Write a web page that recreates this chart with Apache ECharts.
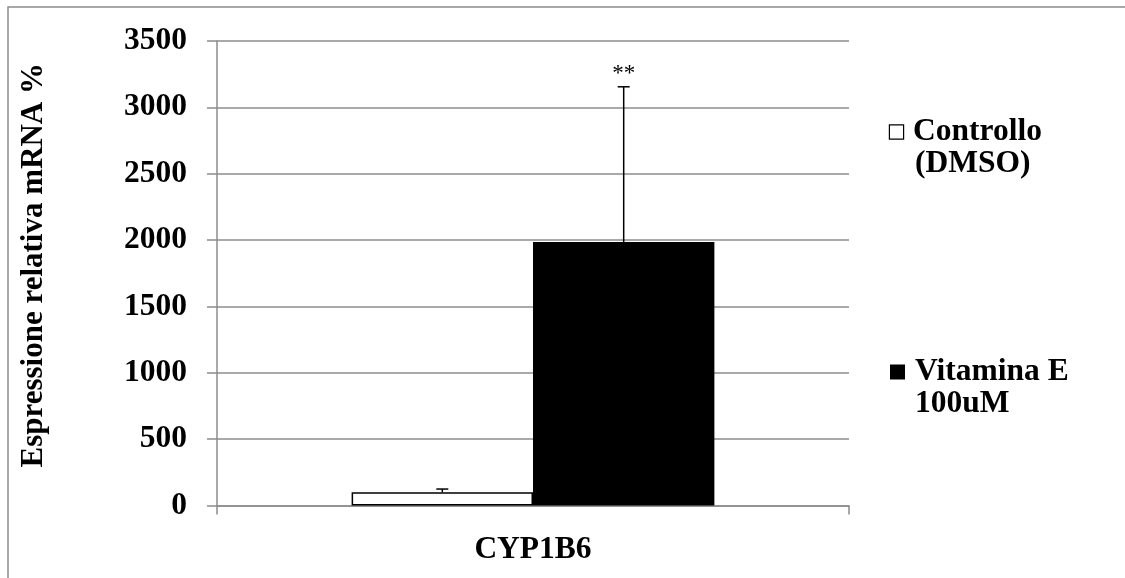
<!DOCTYPE html>
<html>
<head>
<meta charset="utf-8">
<script src="https://cdn.jsdelivr.net/npm/echarts@6/dist/echarts.min.js"></script>
<style>html,body{margin:0;padding:0;background:#fff}#c{width:1125px;height:578px}</style>
</head>
<body>
<div id="c"></div>
<script>
const categories = ['CYP1B6'];
const seriesNames = ['Controllo (DMSO)', 'Vitamina E 100uM'];
const legendLines = [['Controllo', '(DMSO)'], ['Vitamina E', '100uM']];
const controlValues = [100];
const vitaminValues = [1985];
const controlErrors = [24];
const vitaminErrors = [1170];
const vitaminSignif = ['**'];
const yTicks = [0, 500, 1000, 1500, 2000, 2500, 3000, 3500];

const FONT = '"Liberation Serif", "Times New Roman", serif';
const FS = 31.5;
const GRAY = '#8c8c8c';
const BAR_FRAC = 0.287;

const chart = echarts.init(document.getElementById('c'), null, {renderer: 'canvas'});

function errorSeries(values, errors, sign, side) {
  return {
    type: 'custom',
    silent: true,
    z: 5,
    data: values.map((v, i) => [i, v, errors[i]]),
    renderItem: function (params, api) {
      const idx = api.value(0);
      const v = api.value(1);
      const e = api.value(2);
      const band = api.size([1, 0])[0];
      const off = side * band * BAR_FRAC / 2;
      const base = api.coord([idx, v]);
      const top = api.coord([idx, v + e]);
      const x = base[0] + off;
      const cap = 6;
      const children = [
        {type: 'line', shape: {x1: x, y1: base[1], x2: x, y2: top[1]}, style: {stroke: '#000', lineWidth: 1.5}},
        {type: 'line', shape: {x1: x - cap, y1: top[1], x2: x + cap, y2: top[1]}, style: {stroke: '#000', lineWidth: 1.5}}
      ];
      const s = sign ? sign[params.dataIndex] : '';
      if (s) {
        children.push({type: 'text', style: {text: s, x: x, y: top[1] - 1, align: 'center', verticalAlign: 'bottom', font: '23px ' + FONT, fill: '#000'}});
      }
      return {type: 'group', children: children};
    }
  };
}

function legendFor(i, topPx, boxStyle) {
  return {
    data: [{name: seriesNames[i], icon: 'none'}],
    orient: 'vertical', left: 885, top: topPx, padding: 0,
    itemWidth: 0, itemHeight: 14,
    formatter: () => '{box|}{t|' + legendLines[i][0] + '}\n{t2|' + legendLines[i][1] + '}',
    textStyle: {
      fontFamily: FONT, fontWeight: 'bold', fontSize: FS, color: '#000', lineHeight: 32,
      rich: {
        box: Object.assign({verticalAlign: 'middle'}, boxStyle),
        t: {fontFamily: FONT, fontWeight: 'bold', fontSize: FS, color: '#000', lineHeight: 32, padding: [0, 0, 0, 10]},
        t2: {fontFamily: FONT, fontWeight: 'bold', fontSize: FS, color: '#000', lineHeight: 32, padding: [0, 0, 0, 25]}
      }
    }
  };
}

const option = {
  backgroundColor: '#fff',
  animation: false,
  graphic: [{
    type: 'rect', silent: true, z: -1,
    shape: {x: 8, y: 7, width: 1300, height: 700},
    style: {fill: 'none', stroke: GRAY, lineWidth: 1.5}
  }],
  grid: {left: 217, right: 276, top: 41, bottom: 72.5, containLabel: false},
  legend: [
    legendFor(0, 116, {width: 13, height: 13, backgroundColor: '#fff', borderColor: '#000', borderWidth: 1.2}),
    legendFor(1, 356, {width: 15, height: 15, backgroundColor: '#000'})
  ],
  xAxis: {
    type: 'category',
    data: categories,
    axisLine: {lineStyle: {color: GRAY, width: 1.5}},
    axisTick: {show: true, length: 9, lineStyle: {color: GRAY, width: 1.5}},
    axisLabel: {fontFamily: FONT, fontWeight: 'bold', fontSize: FS, color: '#000', margin: 28}
  },
  yAxis: {
    type: 'value',
    min: yTicks[0], max: yTicks[yTicks.length - 1], interval: yTicks[1] - yTicks[0],
    name: 'Espressione relativa mRNA %',
    nameLocation: 'middle', nameRotate: 90, nameGap: 168,
    nameTextStyle: {fontFamily: FONT, fontWeight: 'bold', fontSize: 31, color: '#000', padding: [0, 0, 0, 16]},
    axisLine: {show: true, lineStyle: {color: GRAY, width: 1.5}},
    axisTick: {show: true, length: 10, lineStyle: {color: GRAY, width: 1.5}},
    axisLabel: {fontFamily: FONT, fontWeight: 'bold', fontSize: FS, color: '#000', margin: 30, formatter: v => String(v)},
    splitLine: {show: true, lineStyle: {color: GRAY, width: 1.5}}
  },
  series: [{
    name: seriesNames[0], type: 'bar', data: controlValues,
    barWidth: (BAR_FRAC * 100) + '%', barGap: '0%',
    itemStyle: {color: '#fff', borderColor: '#000', borderWidth: 1.5}
  }, {
    name: seriesNames[1], type: 'bar', data: vitaminValues,
    barWidth: (BAR_FRAC * 100) + '%', barGap: '0%',
    itemStyle: {color: '#000', borderColor: '#000', borderWidth: 0}
  },
  errorSeries(controlValues, controlErrors, null, -1),
  errorSeries(vitaminValues, vitaminErrors, vitaminSignif, 1)
  ]
};
chart.setOption(option);
</script>
</body>
</html>
